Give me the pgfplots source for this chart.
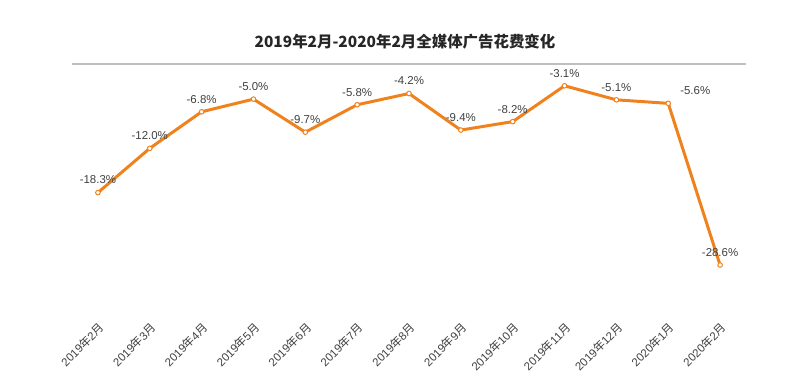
\documentclass[border=0pt]{standalone}
\usepackage{pgfplots}
\pgfplotsset{compat=1.18}
\usepackage{fontspec}
\setmainfont{Liberation Sans}
\newfontfamily\cjk{Noto Sans CJK SC}
\definecolor{lineorange}{RGB}{240,130,30}
\definecolor{txt}{RGB}{64,64,64}
\newcommand{\ny}{{\cjk 年}}
\newcommand{\my}{{\cjk 月}}
\begin{document}
\begin{tikzpicture}
\path[use as bounding box] (0,0) rectangle (807bp,387bp);
\node[font=\cjk\bfseries\fontsize{15.5}{18}\selectfont, text=black!85] at (405bp,345bp) {2019年2月-2020年2月全媒体广告花费变化};
\begin{axis}[
  at={(72bp,67bp)}, anchor=south west,
  scale only axis, width=674bp, height=256bp,
  xmin=-0.5, xmax=12.5, ymin=-36.42, ymax=0,
  axis line style={draw=none},
  major tick length=0pt,
  xtick={0,...,12},
  xticklabels={2019\ny2\my,2019\ny3\my,2019\ny4\my,2019\ny5\my,2019\ny6\my,2019\ny7\my,2019\ny8\my,2019\ny9\my,2019\ny10\my,2019\ny11\my,2019\ny12\my,2020\ny1\my,2020\ny2\my},
  xticklabel style={rotate=45, anchor=north east, font=\fontsize{11.5}{13}\selectfont, text=txt, inner sep=1pt},
  ytick={0}, yticklabels={},
  ymajorgrids, grid style={color=black!25, line width=1.3bp},
  clip=false,
]
\addplot[lineorange, line width=3bp, mark=*, mark size=2.3bp,
  mark options={fill=white, draw=lineorange, line width=1bp}]
  coordinates {(0,-18.3) (1,-12.0) (2,-6.8) (3,-5.0) (4,-9.7) (5,-5.8) (6,-4.2) (7,-9.4) (8,-8.2) (9,-3.1) (10,-5.1) (11,-5.6) (12,-28.6)};
\addplot[draw=none, mark=none, point meta=explicit symbolic,
  nodes near coords,
  nodes near coords style={font=\fontsize{11.5}{13}\selectfont, text=txt, anchor=south, yshift=5bp}]
  coordinates {(0,-18.3) [-18.3\%] (1,-12.0) [-12.0\%] (2,-6.8) [-6.8\%] (3,-5.0) [-5.0\%] (4,-9.7) [-9.7\%] (5,-5.8) [-5.8\%] (6,-4.2) [-4.2\%] (7,-9.4) [-9.4\%] (8,-8.2) [-8.2\%] (9,-3.1) [-3.1\%] (10,-5.1) [-5.1\%] (12,-28.6) [-28.6\%]};
\addplot[draw=none, mark=none, point meta=explicit symbolic,
  nodes near coords,
  nodes near coords style={font=\fontsize{11.5}{13}\selectfont, text=txt, anchor=south, yshift=5bp, xshift=27bp}]
  coordinates {(11,-5.6) [-5.6\%]};
\end{axis}
\end{tikzpicture}
\end{document}
